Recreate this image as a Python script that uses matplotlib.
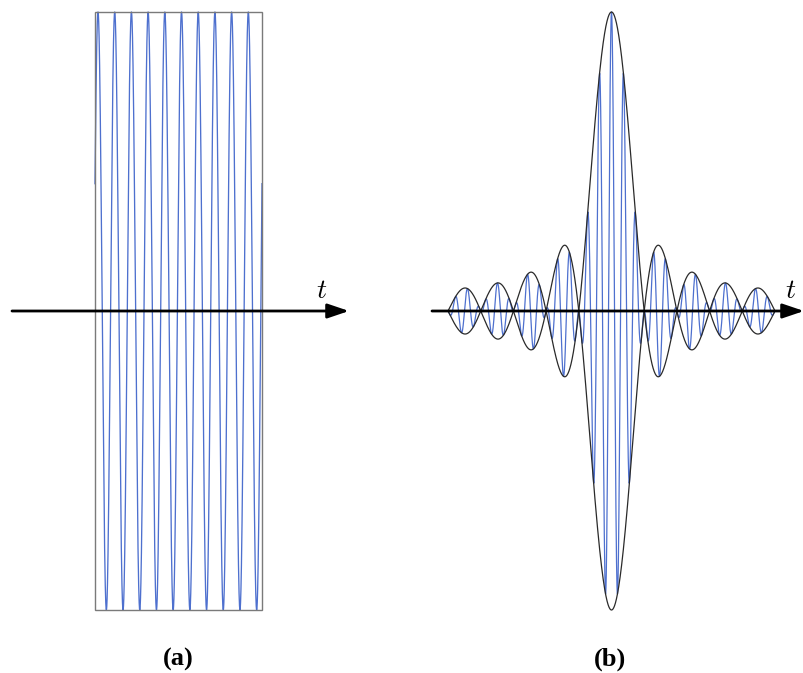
import numpy as np
import matplotlib
matplotlib.use("Agg")
import matplotlib.pyplot as plt
from matplotlib.patches import Rectangle, FancyArrowPatch

plt.rcParams['mathtext.fontset'] = 'cm'

# ---------------- data ----------------
# panel (a): a pure carrier inside a rectangular window
a_cycles = 10            # number of carrier periods inside the window
a_phase = 0.18           # first crest, in periods after window start
a_amplitude = 1.0

# panel (b): sinc-like envelope, lobes between zero crossings
b_lobe_edges = [-5, -4, -3, -2, -1, 1, 2, 3, 4, 5]          # zero crossings (units of zero spacing)
b_lobe_peaks = [0.077, 0.094, 0.13, 0.22, 1.0, 0.22, 0.13, 0.094, 0.077]
b_carrier_period = 0.367  # carrier period in units of zero spacing

panel_labels = ["(a)", "(b)"]
axis_label = "t"

W, H = 804, 673
fig = plt.figure(figsize=(W / 100, H / 100), dpi=100)

blue = '#4468cc'

# ---------------- panel (a) ----------------
axA = fig.add_axes([0, 0, 402 / W, 1])
pxA = 16.7                       # pixels per period
x0A = 95
axA.set_xlim(-x0A / pxA, (402 - x0A) / pxA)
axA.set_ylim(-(H - 311) / 299, 311 / 299)
axA.axis('off')

tA = np.linspace(0, a_cycles, 20000)
yA = a_amplitude * np.cos(2 * np.pi * (tA - a_phase))
axA.plot(tA, yA, color=blue, lw=0.95, alpha=0.95, zorder=2)
axA.add_patch(Rectangle((0, -a_amplitude), a_cycles, 2 * a_amplitude,
                        fill=False, ec='#7a7a7a', lw=1.0, zorder=3))

arrA = FancyArrowPatch(((12 - x0A) / pxA, 0), ((349 - x0A) / pxA, 0),
                       arrowstyle='-|>,head_length=0.65,head_width=0.22',
                       mutation_scale=20, lw=2.0, color='black', zorder=5,
                       shrinkA=0, shrinkB=0)
axA.add_patch(arrA)
axA.text((322 - x0A) / pxA, (311 - 290) / 299, '$' + axis_label + '$',
         fontsize=20, ha='center', va='center', zorder=6)

# ---------------- panel (b) ----------------
axB = fig.add_axes([402 / W, 0, 402 / W, 1])
pxB = 32.7
x0B = 611.5
axB.set_xlim((402 - x0B) / pxB, (804 - x0B) / pxB)
axB.set_ylim(-(H - 311) / 299, 311 / 299)
axB.axis('off')

for i, peak in enumerate(b_lobe_peaks):
    lo, hi = b_lobe_edges[i], b_lobe_edges[i + 1]
    t = np.linspace(lo, hi, 3000)
    shape = np.abs(np.sinc(t))
    shape = shape / shape.max() * peak
    sign = 1 if (i % 2 == 0) else -1
    carrier = sign * shape * np.cos(2 * np.pi * t / b_carrier_period)
    axB.plot(t, carrier, color=blue, lw=0.9, alpha=0.95, zorder=2)
    axB.plot(t, shape, color='#2a2a2a', lw=0.9, zorder=3)
    axB.plot(t, -shape, color='#2a2a2a', lw=0.9, zorder=3)

arrB = FancyArrowPatch(((432 - x0B) / pxB, 0), ((804 - x0B) / pxB, 0),
                       arrowstyle='-|>,head_length=0.65,head_width=0.22',
                       mutation_scale=20, lw=2.0, color='black', zorder=5,
                       shrinkA=0, shrinkB=0)
axB.add_patch(arrB)
axB.text((791 - x0B) / pxB, (311 - 290) / 299, '$' + axis_label + '$',
         fontsize=20, ha='center', va='center', zorder=6)

# ---------------- labels ----------------
fig.text(178 / W, 1 - 659 / H, panel_labels[0], fontsize=19, fontweight='bold',
         family='Liberation Serif', ha='center', va='center')
fig.text(610 / W, 1 - 659 / H, panel_labels[1], fontsize=19, fontweight='bold',
         family='Liberation Serif', ha='center', va='center')

fig.savefig('out.png', dpi=100, facecolor='white')
